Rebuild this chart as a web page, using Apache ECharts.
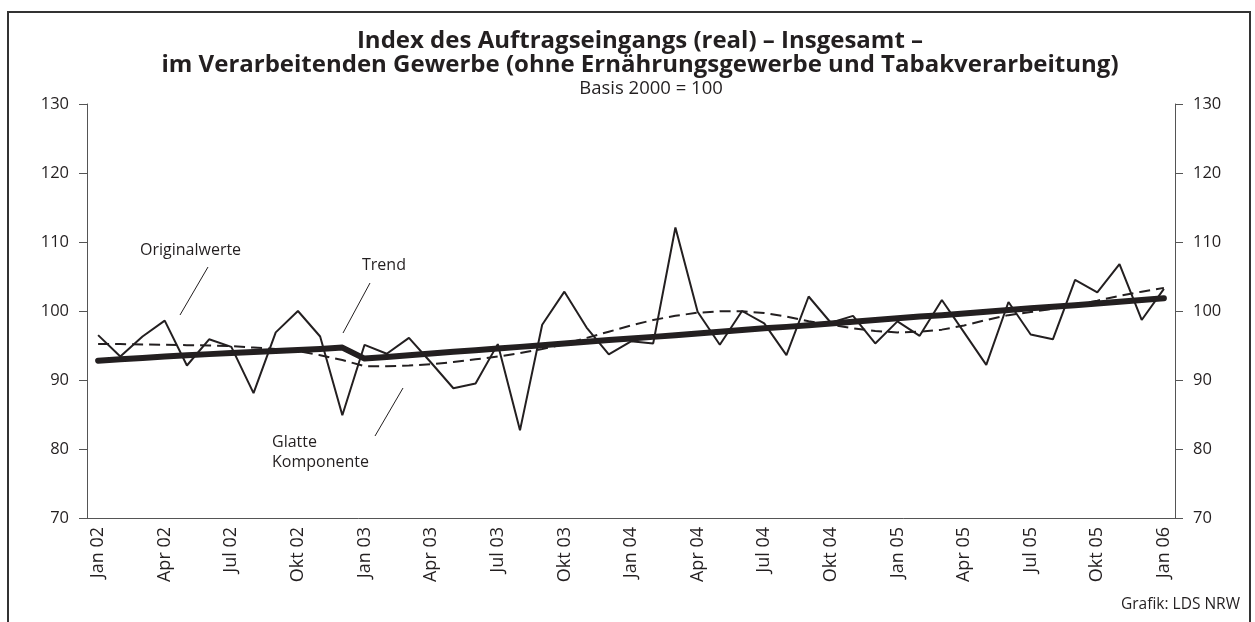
<!DOCTYPE html>
<html>
<head>
<meta charset="utf-8">
<script src="https://cdn.jsdelivr.net/npm/echarts@6/dist/echarts.min.js"></script>
<style>
html,body{margin:0;padding:0;background:#fff;}
#c{width:1255px;height:622px;}
</style>
</head>
<body>
<div id="c"></div>
<script>
const months = ["Jan","Feb","Mär","Apr","Mai","Jun","Jul","Aug","Sep","Okt","Nov","Dez"];
const categories = [];
["02","03","04","05"].forEach(y => months.forEach(m => categories.push(m + " " + y)));
categories.push("Jan 06");

const originalwerte = [
  96.5, 93.4, 96.3, 98.6, 92.1, 95.9, 94.8, 88.1, 96.9, 100.0, 96.3, 84.9,
  95.1, 93.8, 96.1, 92.5, 88.8, 89.5, 95.2, 82.7, 98.0, 102.8, 97.6, 93.7,
  95.6, 95.3, 112.1, 99.9, 95.1, 100.0, 98.2, 93.6, 102.1, 98.3, 99.3, 95.3,
  98.5, 96.4, 101.6, 96.9, 92.2, 101.3, 96.6, 95.9, 104.5, 102.7, 106.8, 98.7,
  103.2
];
const trend = [
  92.8, 93.0, 93.2, 93.4, 93.6, 93.75, 93.9, 94.05, 94.2, 94.35, 94.5, 94.7,
  93.1, 93.35, 93.6, 93.85, 94.1, 94.3, 94.55, 94.8, 95.05, 95.3, 95.55, 95.8,
  96.0, 96.25, 96.5, 96.75, 97.0, 97.25, 97.5, 97.7, 97.95, 98.2, 98.45, 98.7,
  98.95, 99.2, 99.4, 99.65, 99.9, 100.15, 100.4, 100.6, 100.85, 101.1, 101.35, 101.6,
  101.85
];
const glatteKomponente = [
  95.2, 95.2, 95.15, 95.1, 95.05, 95.0, 94.9, 94.7, 94.5, 94.2, 93.6, 92.9,
  92.0, 92.0, 92.1, 92.3, 92.6, 93.0, 93.4, 93.9, 94.5, 95.2, 96.1, 97.0,
  97.9, 98.7, 99.3, 99.75, 99.95, 99.95, 99.7, 99.2, 98.5, 98.0, 97.5, 97.1,
  96.9, 97.0, 97.3, 97.9, 98.7, 99.4, 99.85, 100.3, 100.9, 101.5, 102.2, 102.8,
  103.35
];
const yMin = 70, yMax = 130, yStep = 10;

const FONT = "'Open Sans', 'DejaVu Sans', sans-serif";
const ink = "#231f20";
const axisCol = "#555";

const chart = echarts.init(document.getElementById('c'), null, {renderer: 'canvas'});

const yAxisCommon = {
  type: 'value', min: yMin, max: yMax, interval: yStep,
  axisLine: {show: true, lineStyle: {color: axisCol, width: 1}},
  axisTick: {show: true, inside: false, length: 8, lineStyle: {color: axisCol, width: 1}},
  splitLine: {show: false},
  axisLabel: {color: ink, fontFamily: FONT, fontSize: 16.5, margin: 18}
};

chart.setOption({
  animation: false,
  backgroundColor: '#fff',
  grid: {left: 87, right: 80, top: 104, bottom: 104, containLabel: false},
  xAxis: {
    type: 'category', data: categories, boundaryGap: true,
    axisLine: {show: true, lineStyle: {color: axisCol, width: 1}},
    axisTick: {show: false},
    axisLabel: {interval: 2, rotate: 90, color: ink, fontFamily: FONT, fontSize: 18, margin: 9}
  },
  yAxis: [
    Object.assign({position: 'left'}, yAxisCommon),
    Object.assign({position: 'right'}, yAxisCommon)
  ],
  series: [
    {name: 'Glatte Komponente', type: 'line', data: glatteKomponente, showSymbol: false, symbol: 'none',
     lineStyle: {color: ink, width: 2, type: [11, 6]}, z: 2},
    {name: 'Originalwerte', type: 'line', data: originalwerte, showSymbol: false, symbol: 'none',
     lineStyle: {color: ink, width: 2}, z: 3},
    {name: 'Trend', type: 'line', data: trend, showSymbol: false, symbol: 'none',
     lineStyle: {color: ink, width: 6, cap: 'round', join: 'round'}, z: 4}
  ],
  graphic: [
    {type: 'rect', shape: {x: 8, y: 12, width: 1242, height: 620}, style: {fill: 'none', stroke: '#333', lineWidth: 2}, silent: true},
    {type: 'text', x: 640, y: 41, style: {text: 'Index des Auftragseingangs (real) – Insgesamt –', font: "bold 24px " + FONT, fill: ink, align: 'center', verticalAlign: 'middle'}},
    {type: 'text', x: 640, y: 65, style: {text: 'im Verarbeitenden Gewerbe (ohne Ernährungsgewerbe und Tabakverarbeitung)', font: "bold 24px " + FONT, fill: ink, align: 'center', verticalAlign: 'middle'}},
    {type: 'text', x: 651, y: 89, style: {text: 'Basis 2000 = 100', font: "18.5px " + FONT, fill: ink, align: 'center', verticalAlign: 'middle'}},
    {type: 'text', x: 140, y: 250, style: {text: 'Originalwerte', font: "16px " + FONT, fill: ink, verticalAlign: 'middle'}},
    {type: 'line', shape: {x1: 208, y1: 267, x2: 180, y2: 315}, style: {stroke: ink, lineWidth: 1}},
    {type: 'text', x: 362, y: 265, style: {text: 'Trend', font: "16px " + FONT, fill: ink, verticalAlign: 'middle'}},
    {type: 'line', shape: {x1: 370, y1: 283, x2: 343, y2: 333}, style: {stroke: ink, lineWidth: 1}},
    {type: 'text', x: 272, y: 432, style: {text: 'Glatte\nKomponente', font: "16px " + FONT, fill: ink, lineHeight: 20}},
    {type: 'line', shape: {x1: 403, y1: 388, x2: 375, y2: 436}, style: {stroke: ink, lineWidth: 1}},
    {type: 'text', x: 1240, y: 605, style: {text: 'Grafik: LDS NRW', font: "15.5px " + FONT, fill: ink, align: 'right', verticalAlign: 'middle'}}
  ]
});
</script>
</body>
</html>
